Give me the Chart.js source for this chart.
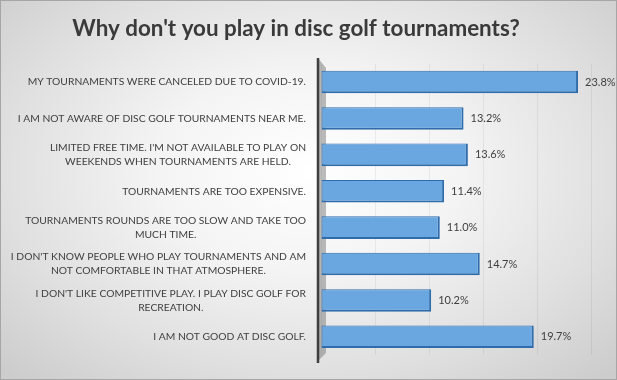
<!DOCTYPE html>
<html>
<head>
<meta charset="utf-8">
<script src="https://cdn.jsdelivr.net/npm/chart.js@4"></script>
<style>
  html, body { margin: 0; padding: 0; }
  body {
    width: 617px; height: 380px; overflow: hidden;
    background: radial-gradient(ellipse 70% 75% at 50% 45%, #ffffff 0%, #f4f4f4 35%, #e0e0e0 70%, #cccccc 100%);
  }
  #wrap { position: relative; width: 615px; height: 378px; border: 1px solid #a6a6a6; }
</style>
</head>
<body>
<div id="wrap"><canvas id="c" width="615" height="378"></canvas></div>
<script>
const titleText = "Why don't you play in disc golf tournaments?";
const categories = [
  ["MY TOURNAMENTS WERE CANCELED DUE TO COVID-19."],
  ["I AM NOT AWARE OF DISC GOLF TOURNAMENTS NEAR ME."],
  ["LIMITED FREE TIME. I'M NOT AVAILABLE TO PLAY ON", "WEEKENDS WHEN TOURNAMENTS ARE HELD."],
  ["TOURNAMENTS ARE TOO EXPENSIVE."],
  ["TOURNAMENTS ROUNDS ARE TOO SLOW AND TAKE TOO", "MUCH TIME."],
  ["I DON'T KNOW PEOPLE WHO PLAY TOURNAMENTS AND AM", "NOT COMFORTABLE IN THAT ATMOSPHERE."],
  ["I DON'T LIKE COMPETITIVE PLAY. I PLAY DISC GOLF FOR", "RECREATION."],
  ["I AM NOT GOOD AT DISC GOLF."]
];
const percentValues = [23.8, 13.2, 13.6, 11.4, 11.0, 14.7, 10.2, 19.7];
const valueLabels = ["23.8%", "13.2%", "13.6%", "11.4%", "11.0%", "14.7%", "10.2%", "19.7%"];

const FONT = "'Lato', 'Open Sans', sans-serif";
const TEXT = "#404040";

const labelPlugin = {
  id: 'labelsAndValues',
  beforeDatasetsDraw(chart) {
    const ctx = chart.ctx;
    const area = chart.chartArea;
    ctx.save();
    ctx.fillStyle = 'rgba(120,120,120,0.5)';
    ctx.beginPath();
    ctx.moveTo(area.left - 3, area.top - 6);
    ctx.lineTo(area.left + 5, area.top + 4);
    ctx.lineTo(area.left + 5, area.bottom - 2);
    ctx.lineTo(area.left - 3, area.bottom + 6);
    ctx.closePath();
    ctx.fill();
    ctx.strokeStyle = '#3f3f3f';
    ctx.lineWidth = 2.5;
    ctx.beginPath();
    ctx.moveTo(area.left - 3, area.top - 6);
    ctx.lineTo(area.left - 3, area.bottom + 8);
    ctx.stroke();
    ctx.restore();
  },
  afterDraw(chart) {
    const ctx = chart.ctx;
    const yScale = chart.scales.y;
    const area = chart.chartArea;
    const meta = chart.getDatasetMeta(0);
    ctx.save();
    ctx.fillStyle = TEXT;
    ctx.font = "10.3px " + FONT;
    ctx.textBaseline = 'middle';
    const rightEdge = area.left - 15;
    const lineH = 14;
    categories.forEach((lines, i) => {
      const cy = yScale.getPixelForValue(i);
      const widths = lines.map(l => ctx.measureText(l).width);
      const maxW = Math.max(...widths);
      const cx = rightEdge - maxW / 2;
      ctx.textAlign = 'center';
      lines.forEach((l, k) => {
        const ly = cy + (k - (lines.length - 1) / 2) * lineH;
        ctx.fillText(l, cx, ly);
      });
    });
    ctx.font = "11px " + FONT;
    ctx.textAlign = 'left';
    meta.data.forEach((bar, i) => {
      ctx.fillText(valueLabels[i], bar.x + 7, bar.y);
    });
    ctx.restore();
  }
};

const ctx = document.getElementById('c').getContext('2d');
function barGradient(context) {
  const chart = context.chart;
  const el = context.element;
  if (!el || !chart.chartArea || !Number.isFinite(el.y) || !Number.isFinite(el.height)) return '#6aa7e0';
  const h = el.height;
  const g = chart.ctx.createLinearGradient(0, el.y - h / 2, 0, el.y + h / 2);
  g.addColorStop(0, '#8fc3f0');
  g.addColorStop(0.25, '#74b0e6');
  g.addColorStop(0.8, '#6aa6e0');
  g.addColorStop(1, '#4d8ccc');
  return g;
}

new Chart(ctx, {
  type: 'bar',
  data: {
    labels: categories,
    datasets: [{
      data: percentValues,
      backgroundColor: barGradient,
      borderColor: '#2f6cab',
      borderWidth: { top: 1, left: 1, right: 2, bottom: 2 },
      borderSkipped: false,
      barPercentage: 0.62,
      categoryPercentage: 1.0
    }]
  },
  plugins: [labelPlugin],
  options: {
    indexAxis: 'y',
    responsive: false,
    animation: false,
    layout: { padding: { left: 0, right: 25, top: 0, bottom: 24 } },
    plugins: {
      legend: { display: false },
      tooltip: { enabled: false },
      title: {
        display: true,
        text: titleText,
        color: '#3a3a3a',
        font: { family: FONT, size: 22.4, weight: 'bold' },
        padding: { top: 14, bottom: 22 }
      }
    },
    scales: {
      x: {
        min: 0, max: 25,
        ticks: { display: false, stepSize: 5 },
        grid: { color: 'rgba(0,0,0,0.06)', drawTicks: false },
        border: { display: false }
      },
      y: {
        ticks: { display: false },
        grid: { display: false, drawTicks: false },
        border: { display: false },
        afterFit(scale) { scale.width = 320; }
      }
    }
  }
});
</script>
</body>
</html>
